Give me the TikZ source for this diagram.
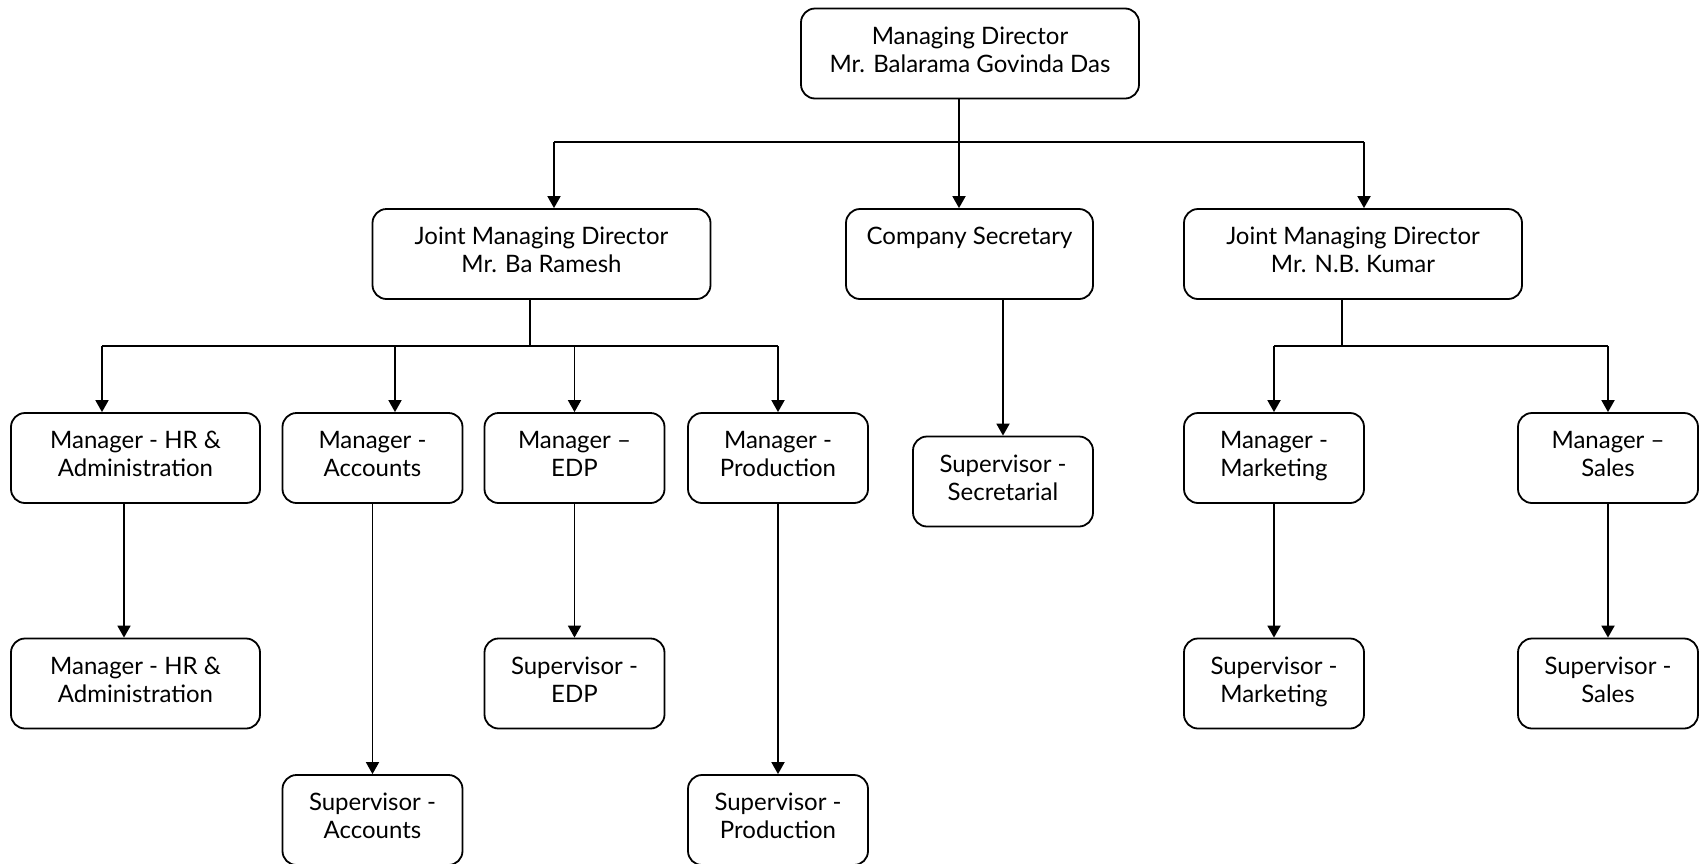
\documentclass[tikz,border=0pt]{standalone}
\usepackage{fontspec}
\setmainfont{Lato}
\usetikzlibrary{arrows.meta}
\tikzset{
  box/.style={draw,rounded corners=7pt,line width=0.9pt,align=center,inner sep=0pt,
    minimum height=45pt,font=\fontsize{12}{14}\selectfont,
    execute at begin node=\strut,execute at end node=\strut},
  widebox/.style={box,minimum width=169pt},
  smallbox/.style={box,minimum width=90pt},
  hrbox/.style={box,minimum width=124.5pt},
  link/.style={line width=0.9pt},
  arr/.style={link,-{Triangle[width=6.5pt,length=6pt]}}
}
\begin{document}
\begin{tikzpicture}[x=0.5pt,y=-0.5pt]
  \useasboundingbox (0,0) rectangle (1699,863);

  \node[widebox] (md) at (970,53.5) {Managing Director\\Mr. Balarama Govinda Das};

  \node[widebox] (jmdA) at (541.5,254) {Joint Managing Director\\Mr. Ba Ramesh};
  \node[box,minimum width=123.5pt] (cs) at (969.5,254) {Company Secretary\\\phantom{X}};
  \node[widebox] (jmdB) at (1353,254) {Joint Managing Director\\Mr. N.B. Kumar};

  \node[hrbox] (hrA) at (135.5,458) {Manager - HR \&\\Administration};
  \node[smallbox] (accA) at (372.5,458) {Manager -\\Accounts};
  \node[smallbox] (edpA) at (574.5,458) {Manager --\\EDP};
  \node[smallbox] (prodA) at (778,458) {Manager -\\Production};
  \node[smallbox] (secS) at (1003,481.5) {Supervisor -\\Secretarial};
  \node[smallbox] (mktA) at (1274,458) {Manager -\\Marketing};
  \node[smallbox] (salesA) at (1608,458) {Manager --\\Sales};

  \node[hrbox] (hrB) at (135.5,683.5) {Manager - HR \&\\Administration};
  \node[smallbox] (edpS) at (574.5,683.5) {Supervisor -\\EDP};
  \node[smallbox] (mktS) at (1274,683.5) {Supervisor -\\Marketing};
  \node[smallbox] (salesS) at (1608,683.5) {Supervisor -\\Sales};

  \node[smallbox] (accS) at (372.5,820) {Supervisor -\\Accounts};
  \node[smallbox] (prodS) at (778,820) {Supervisor -\\Production};

  \coordinate (mdbus) at (959,142);
  \coordinate (mdL) at (554,142);
  \coordinate (mdR) at (1364,142);
  \draw[link] (md.south -| mdbus) -- (mdbus);
  \draw[link] (mdL) -- (mdR);
  \draw[arr] (mdL) -- (mdL |- jmdA.north);
  \draw[arr] (mdbus) -- (mdbus |- cs.north);
  \draw[arr] (mdR) -- (mdR |- jmdB.north);

  \coordinate (busA) at (530,346);
  \coordinate (busAL) at (102,346);
  \coordinate (accin) at (395,346);
  \coordinate (edpin) at (574.5,346);
  \coordinate (busAR) at (778,346);
  \draw[link] (jmdA.south -| busA) -- (busA);
  \draw[link] (busAL) -- (busAR);
  \draw[arr] (busAL) -- (busAL |- hrA.north);
  \draw[arr] (accin) -- (accin |- accA.north);
  \draw[arr] (edpin) -- (edpin |- edpA.north);
  \draw[arr] (busAR) -- (busAR |- prodA.north);

  \coordinate (busB) at (1342,346);
  \coordinate (busBL) at (1274,346);
  \coordinate (busBR) at (1608,346);
  \draw[link] (jmdB.south -| busB) -- (busB);
  \draw[link] (busBL) -- (busBR);
  \draw[arr] (busBL) -- (busBL |- mktA.north);
  \draw[arr] (busBR) -- (busBR |- salesA.north);

  \draw[arr] ([xshift=-5.75pt]hrA.south) -- ([xshift=-5.75pt]hrB.north);
  \draw[arr] (accA.south) -- (accS.north);
  \draw[arr] (edpA.south) -- (edpS.north);
  \draw[arr] (prodA.south) -- (prodS.north);
  \draw[arr] (cs.south -| secS.north) -- (secS.north);
  \draw[arr] (mktA.south) -- (mktS.north);
  \draw[arr] (salesA.south) -- (salesS.north);
\end{tikzpicture}
\end{document}
